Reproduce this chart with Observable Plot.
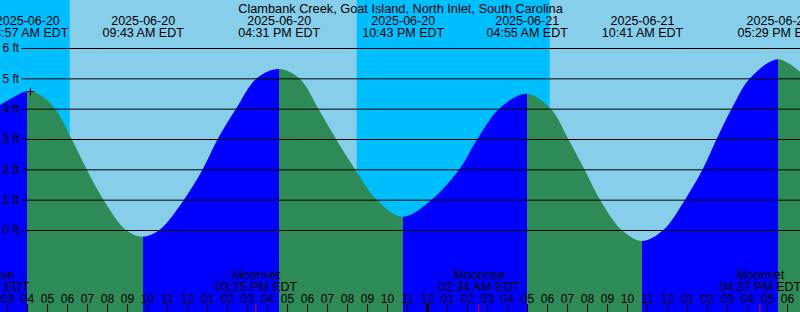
<!DOCTYPE html>
<html>
<head>
<meta charset="utf-8">
<script src="https://cdn.jsdelivr.net/npm/d3@7"></script>
<script src="https://cdn.jsdelivr.net/npm/@observablehq/plot@0.6"></script>
<style>
html, body { margin: 0; padding: 0; overflow: hidden; background: #87ceeb; }
</style>
</head>
<body>
<div id="chart"></div>
<script>
// ---------- data ----------
const stationName = "Clambank Creek, Goat Island, North Inlet, South Carolina";
const viewStart = "2025-06-20T02:35";
const viewEnd = "2025-06-21T18:35";

// high / low tide events (local EDT)
const tideEventTimes = ["2025-06-20T03:57", "2025-06-20T09:43", "2025-06-20T16:31", "2025-06-20T22:43",
                        "2025-06-21T04:55", "2025-06-21T10:41", "2025-06-21T17:29"];
const tideEventHeights = [4.58, -0.22, 5.31, 0.44, 4.49, -0.36, 5.63];

// intermediate readings of the tide curve (ft)
const readingTimes = ["2025-06-20T02:35", "2025-06-20T03:18", "2025-06-20T04:36", "2025-06-20T05:20",
  "2025-06-20T06:10", "2025-06-20T06:55", "2025-06-20T07:45", "2025-06-20T08:53",
  "2025-06-20T10:33", "2025-06-20T11:47", "2025-06-20T12:43", "2025-06-20T13:28",
  "2025-06-20T14:23", "2025-06-20T15:25", "2025-06-20T17:33", "2025-06-20T18:30",
  "2025-06-20T19:23", "2025-06-20T20:20", "2025-06-20T21:25", "2025-06-21T00:10",
  "2025-06-21T01:33", "2025-06-21T02:27", "2025-06-21T03:33", "2025-06-21T06:07",
  "2025-06-21T07:00", "2025-06-21T07:48", "2025-06-21T08:35", "2025-06-21T09:40",
  "2025-06-21T11:45", "2025-06-21T12:50", "2025-06-21T13:43", "2025-06-21T14:25",
  "2025-06-21T15:10", "2025-06-21T16:05", "2025-06-21T18:35"];
const readingHeights = [4.12, 4.39, 4.45, 4.0,
  3.0, 2.0, 1.0, 0.0,
  0.0, 1.0, 2.0, 3.0,
  4.0, 5.0, 5.0, 4.0,
  3.0, 2.0, 1.0, 1.0,
  2.0, 3.0, 4.0, 4.0,
  3.0, 2.0, 1.0, 0.0,
  0.0, 1.0, 2.0, 3.0,
  4.0, 5.0, 5.22];

// night (sunset -> sunrise)
const sunsetTimes = ["2025-06-19T20:25", "2025-06-20T20:25"];
const sunriseTimes = ["2025-06-20T06:04", "2025-06-21T06:04"];

// moon events
const moonEventTimes = ["2025-06-20T02:02", "2025-06-20T15:25", "2025-06-21T02:34", "2025-06-21T16:37"];
const moonEventNames = ["Moonrise", "Moonset", "Moonrise", "Moonset"];

// height grid
const gridLevels = [0, 1, 2, 3, 4, 5, 6];
const gridUnit = "ft";

// cross mark
const markTime = "2025-06-20T04:05";
const markHeight = 4.58;

// ---------- styles ----------
const colors = {rising: "#0000ff", falling: "#2e8b57", day: "#87ceeb", night: "#00bfff"};
const W = 800, H = 312;

// ---------- build tables ----------
const parse = s => new Date(s + ":00Z");
const fmtDate = d3.utcFormat("%Y-%m-%d");
const fmtTime = d3.utcFormat("%I:%M %p EDT");
const fmtHour = d3.utcFormat("%I");

const tideEvents = tideEventTimes.map((t, i) => ({t: parse(t), h: tideEventHeights[i]}));
const readings = readingTimes.map((t, i) => ({t: parse(t), h: readingHeights[i]}));
const tideCurve = [...tideEvents, ...readings].sort((a, b) => a.t - b.t);
const nights = sunsetTimes.map((s, i) => ({set: parse(s), rise: parse(sunriseTimes[i])}));
const moonEvents = moonEventTimes.map((t, i) => ({t: parse(t), name: moonEventNames[i]}));
const t0 = parse(viewStart), t1 = parse(viewEnd);
const hours = d3.utcHour.range(d3.utcHour.offset(d3.utcHour.floor(t0), -1), d3.utcHour.offset(t1, 2));
const midnights = hours.filter(d => d.getUTCHours() === 0);

const font = "Liberation Sans, Arial, Helvetica, sans-serif";

const chart = Plot.plot({
  width: W,
  height: H,
  margin: 0,
  style: {background: colors.day, fontFamily: font, fontSize: "12px", color: "black", overflow: "hidden"},
  x: {type: "utc", domain: [t0, t1], range: [0, W], axis: null},
  y: {type: "linear", domain: [0, 6], range: [230, 48], axis: null},
  marks: [
    Plot.rect(nights, {x1: "set", x2: "rise", fill: colors.night}),
    Plot.areaY(tideCurve, {x: "t", y1: () => -3.5, y2: "h", curve: "catmull-rom", fill: "url(#tideFill)"}),
    Plot.ruleY(gridLevels, {y: d => d, stroke: "black", insetLeft: 21.5}),
    Plot.text(gridLevels, {y: d => d, text: d => `${d} ${gridUnit}`, frameAnchor: "left", textAnchor: "start", dx: 2, fontSize: 12}),
    Plot.dot([{t: parse(markTime), h: markHeight}], {
      x: "t", y: "h", r: 4, fill: "none", stroke: "black", strokeWidth: 1,
      symbol: {draw(ctx, size) { const r = Math.sqrt(size / Math.PI); ctx.moveTo(-r, 0); ctx.lineTo(r, 0); ctx.moveTo(0, -r); ctx.lineTo(0, r); }}
    }),
    // title and tide event labels
    Plot.text([stationName], {frameAnchor: "top", lineAnchor: "bottom", dy: 12, fontSize: 12.75}),
    Plot.text(tideEvents, {x: "t", text: d => fmtDate(d.t), frameAnchor: "top", lineAnchor: "bottom", dy: 24, fontSize: 12.5}),
    Plot.text(tideEvents, {x: "t", text: d => fmtTime(d.t), frameAnchor: "top", lineAnchor: "bottom", dy: 36, fontSize: 12.5}),
    // hour ticks
    Plot.ruleX(hours, {x: d => d, stroke: "black", strokeWidth: 1, insetTop: 304, dx: -1.3}),
    Plot.ruleX(midnights, {x: d => d, stroke: "black", strokeWidth: 3, insetTop: 304, dx: -1.3}),
    Plot.ruleX(moonEvents, {x: "t", stroke: "red", strokeWidth: 1, insetTop: 304, dx: -1.3}),
    Plot.text(hours, {x: d => d, text: d => fmtHour(d), frameAnchor: "top", lineAnchor: "bottom", dy: 302, dx: -1.3, fontSize: 12}),
    // moon labels
    Plot.text(moonEvents, {x: "t", text: "name", frameAnchor: "top", lineAnchor: "bottom", dy: 278, dx: -1, fontSize: 12.5}),
    Plot.text(moonEvents, {x: "t", text: d => fmtTime(d.t), frameAnchor: "top", lineAnchor: "bottom", dy: 290, dx: -1, fontSize: 12.5})
  ]
});

// piecewise fill: rising = blue, falling = green, switching at each high/low event
const xs = chart.scale("x");
const xf = typeof xs.apply === "function" ? xs.apply : d3.scaleUtc(xs.domain, xs.range);
const svg = d3.select(chart.tagName.toLowerCase() === "svg" ? chart : chart.querySelector("svg"));
const grad = svg.insert("defs", ":first-child").append("linearGradient")
  .attr("id", "tideFill").attr("gradientUnits", "userSpaceOnUse")
  .attr("x1", 0).attr("y1", 0).attr("x2", W).attr("y2", 0);
let prev = tideEvents[1].h < tideEvents[0].h ? "rising" : "falling";
grad.append("stop").attr("offset", 0).attr("stop-color", colors[prev]);
tideEvents.forEach((e, i) => {
  const next = i + 1 < tideEvents.length ? (tideEvents[i + 1].h > e.h ? "rising" : "falling")
                                         : (prev === "rising" ? "falling" : "rising");
  const off = Math.max(0, Math.min(1, xf(e.t) / W));
  grad.append("stop").attr("offset", off).attr("stop-color", colors[prev]);
  grad.append("stop").attr("offset", off).attr("stop-color", colors[next]);
  prev = next;
});
grad.append("stop").attr("offset", 1).attr("stop-color", colors[prev]);

document.getElementById("chart").append(chart);
</script>
</body>
</html>
